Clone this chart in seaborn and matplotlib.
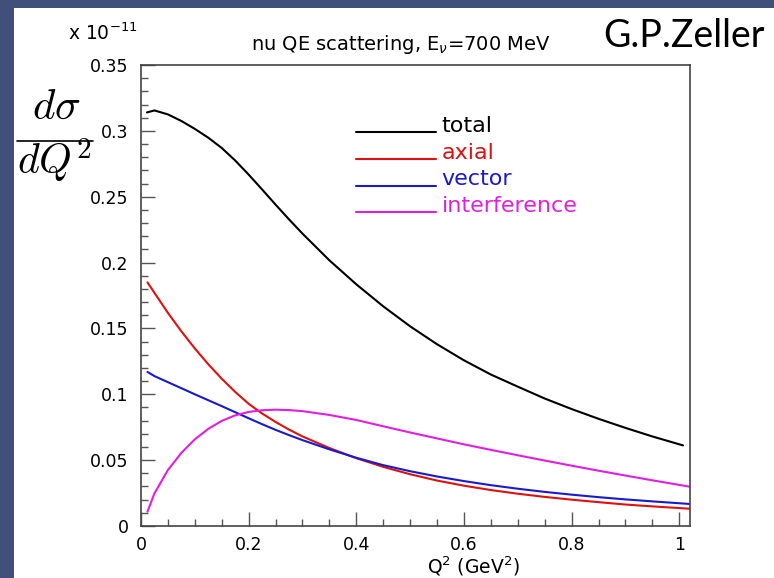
import matplotlib
matplotlib.use("Agg")
import matplotlib.pyplot as plt
from matplotlib.patches import Rectangle
from matplotlib.lines import Line2D
from matplotlib.legend_handler import HandlerLine2D
import seaborn as sns
import pandas as pd

# ---- data (units of 1e-11) ----
q2_total = [0.011, 0.025, 0.05, 0.075, 0.1, 0.125, 0.15, 0.175, 0.2, 0.225, 0.25, 0.275, 0.3, 0.35,
            0.4, 0.45, 0.5, 0.55, 0.6, 0.65, 0.7, 0.75, 0.8, 0.85, 0.9, 0.95, 1.007]
total = [0.314, 0.3155, 0.3125, 0.3075, 0.3015, 0.2948, 0.2870, 0.2775, 0.2668, 0.2555, 0.2440, 0.2328,
         0.2220, 0.2017, 0.1835, 0.1668, 0.1516, 0.1380, 0.1258, 0.1150, 0.1058, 0.0968, 0.0888,
         0.0814, 0.0745, 0.0680, 0.0612]

q2_parts = [0.012, 0.025, 0.05, 0.075, 0.1, 0.125, 0.15, 0.175, 0.2, 0.225, 0.25, 0.275, 0.3, 0.35,
            0.4, 0.45, 0.5, 0.55, 0.6, 0.65, 0.7, 0.75, 0.8, 0.85, 0.9, 0.95, 1.02]
axial = [0.185, 0.177, 0.1618, 0.1478, 0.1348, 0.1228, 0.1118, 0.1018, 0.0928, 0.0854, 0.0790, 0.0732,
         0.0680, 0.0592, 0.0515, 0.0449, 0.0393, 0.0345, 0.0306, 0.0273, 0.0245, 0.0221, 0.0200,
         0.0181, 0.0163, 0.0149, 0.0131]
vector = [0.117, 0.1138, 0.1092, 0.1046, 0.1000, 0.0955, 0.0910, 0.0864, 0.0818, 0.0773, 0.0730, 0.0690,
          0.0652, 0.0582, 0.0518, 0.0462, 0.0416, 0.0376, 0.0341, 0.0310, 0.0283, 0.0259, 0.0238,
          0.0219, 0.0202, 0.0187, 0.0167]
interference = [0.0109, 0.0248, 0.0425, 0.0555, 0.0658, 0.0738, 0.0798, 0.0840, 0.0866, 0.0879, 0.0883,
                0.0880, 0.0872, 0.0843, 0.0805, 0.0757, 0.0710, 0.0665, 0.0620, 0.0578, 0.0537,
                0.0497, 0.0458, 0.0420, 0.0383, 0.0347, 0.0298]

series_names = ["total", "axial", "vector", "interference"]
series_colors = ["#000000", "#dd1111", "#1a1acc", "#e020e0"]

yticks = [0, 0.05, 0.1, 0.15, 0.2, 0.25, 0.3, 0.35]
ytick_labels = ["0", "0.05", "0.1", "0.15", "0.2", "0.25", "0.3", "0.35"]
xticks = [0, 0.2, 0.4, 0.6, 0.8, 1.0]
xtick_labels = ["0", "0.2", "0.4", "0.6", "0.8", "1"]

frames = [pd.DataFrame({"Q2": q2_total, "xs": total, "series": "total"})]
for name, vals in zip(series_names[1:], [axial, vector, interference]):
    frames.append(pd.DataFrame({"Q2": q2_parts, "xs": vals, "series": name}))
df = pd.concat(frames, ignore_index=True)

sns.set_style("white")
plt.rcParams["font.family"] = ["DejaVu Sans"]
plt.rcParams["mathtext.fontset"] = "dejavusans"
plt.rcParams["text.color"] = "black"
plt.rcParams["xtick.color"] = "black"
plt.rcParams["ytick.color"] = "black"


class BaselineHandler(HandlerLine2D):
    """Legend line drawn at the text baseline (ROOT-like underline)."""
    def create_artists(self, legend, orig_handle, xdescent, ydescent, width, height,
                       fontsize, trans):
        artists = super().create_artists(legend, orig_handle, xdescent, ydescent, width,
                                         height, fontsize, trans)
        for a in artists:
            if isinstance(a, Line2D):
                a.set_ydata([y - 0.36 * fontsize for y in a.get_ydata()])
        return artists


W, H = 774, 578
fig = plt.figure(figsize=(W / 100, H / 100), dpi=100)
fig.patch.set_facecolor("#40507a")
fig.patches.append(Rectangle((14 / W, 0), 1, 1 - 8 / H, transform=fig.transFigure,
                             facecolor="white", edgecolor="none", zorder=-10))

ax = fig.add_axes([141 / W, 1 - 526 / H, (690 - 141) / W, (526 - 65) / H])
ax.set_facecolor("white")

sns.lineplot(data=df, x="Q2", y="xs", hue="series", hue_order=series_names,
             palette=dict(zip(series_names, series_colors)), sort=False,
             estimator=None, linewidth=1.5, ax=ax, legend=True)

ax.set_xlim(0, 1.02)
ax.set_ylim(0, 0.35)
ax.set_xticks(xticks)
ax.set_xticklabels(xtick_labels)
ax.set_yticks(yticks)
ax.set_yticklabels(ytick_labels)
ax.set_xticks([0.05 * i for i in range(21) if i % 4 != 0], minor=True)
ax.set_yticks([0.01 * i for i in range(36) if i % 5 != 0], minor=True)
ax.tick_params(which="major", direction="in", length=10, width=1, color="#555555",
               labelsize=12.5, pad=7, bottom=True, left=True, top=False, right=False)
ax.tick_params(which="minor", direction="in", length=5, width=1, color="#555555",
               bottom=True, left=True, top=False, right=False)
ax.tick_params(axis="y", pad=9)
for s in ax.spines.values():
    s.set_visible(True)
    s.set_color("#444444")
    s.set_linewidth(1.2)
ax.set_xlabel("")
ax.set_ylabel("")

sns.move_legend(ax, loc="upper left", bbox_to_anchor=((356 - 141) / 549, (526 - 116) / 461),
                frameon=False, title=None, fontsize=16, handlelength=3.6,
                handletextpad=0.25, labelspacing=0.3, borderpad=0, borderaxespad=0,
                labelcolor="linecolor", handler_map={Line2D: BaselineHandler()})

fig.text(473 / W, 1 - 566 / H, "Q$^2$ (GeV$^2$)", ha="center", va="center", fontsize=13.5)
fig.text(401 / W, 1 - 45 / H, "nu QE scattering, E$_{\\nu}$=700 MeV", ha="center",
         va="center", fontsize=14)
fig.text(68 / W, 1 - 33 / H, "x 10$^{-11}$", ha="left", va="center", fontsize=13.5)
fig.text(684 / W, 1 - 36 / H, "G.P.Zeller", ha="center", va="center", fontsize=27,
         family=["Lato", "DejaVu Sans"])
# d sigma / dQ^2 label built as a fraction
fig.text(56 / W, 1 - 119 / H, r"$d\sigma$", ha="center", va="baseline",
         fontsize=31, math_fontfamily="cm")
fig.text(54 / W, 1 - 175 / H, r"$dQ^2$", ha="center", va="baseline",
         fontsize=30, math_fontfamily="cm")
fig.add_artist(Line2D([17 / W, 93 / W], [1 - 141 / H, 1 - 141 / H], transform=fig.transFigure,
                      color="black", linewidth=1.2))

fig.savefig("out.png", dpi=100, facecolor=fig.get_facecolor())
